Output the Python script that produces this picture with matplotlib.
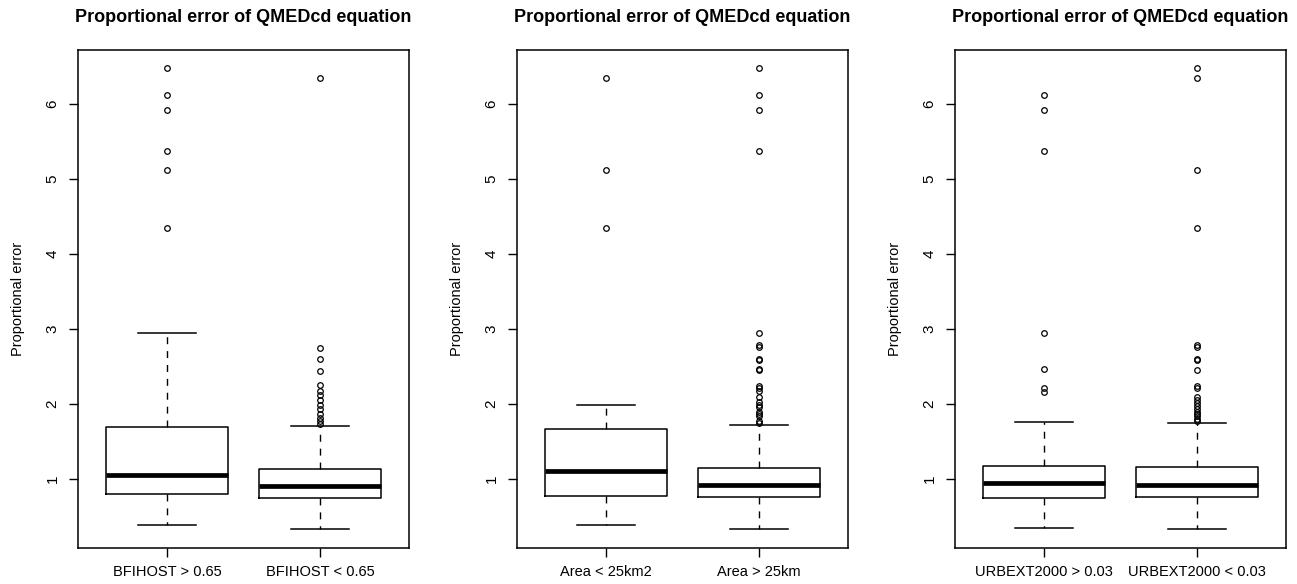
import numpy as np
import matplotlib
matplotlib.use("Agg")
import matplotlib.pyplot as plt

plt.rcParams['font.family'] = ['Liberation Sans', 'DejaVu Sans']

title = "Proportional error of QMEDcd equation"
ylabel = "Proportional error"

# panel 1 - BFIHOST split
labels1 = ["BFIHOST > 0.65", "BFIHOST < 0.65"]
whislo1 = [0.39, 0.333]
q1_1 = [0.795, 0.746]
med1 = [1.06, 0.906]
q3_1 = [1.69, 1.134]
whishi1 = [2.945, 1.71]
fliers1 = [
    [6.48, 6.12, 5.92, 5.37, 5.12, 4.35],
    [6.34, 2.75, 2.60, 2.44, 2.25, 2.18, 2.12, 2.05, 1.99, 1.93, 1.87, 1.82, 1.77, 1.73],
]

# panel 2 - catchment area split
labels2 = ["Area < 25km2", "Area > 25km"]
whislo2 = [0.39, 0.333]
q1_2 = [0.771, 0.756]
med2 = [1.11, 0.915]
q3_2 = [1.667, 1.144]
whishi2 = [1.985, 1.716]
fliers2 = [
    [6.34, 5.12, 4.35],
    [6.48, 6.12, 5.92, 5.37, 2.95, 2.78, 2.76, 2.60, 2.59, 2.47, 2.45, 2.24, 2.22,
     2.18, 2.09, 2.03, 1.99, 1.96, 1.90, 1.87, 1.84, 1.78, 1.75],
]

# panel 3 - URBEXT2000 split
labels3 = ["URBEXT2000 > 0.03", "URBEXT2000 < 0.03"]
whislo3 = [0.348, 0.333]
q1_3 = [0.746, 0.76]
med3 = [0.945, 0.92]
q3_3 = [1.179, 1.16]
whishi3 = [1.761, 1.746]
fliers3 = [
    [6.12, 5.92, 5.37, 2.94, 2.47, 2.22, 2.16],
    [6.48, 6.34, 5.12, 4.35, 2.78, 2.76, 2.60, 2.59, 2.45, 2.24, 2.22, 2.09, 2.05,
     2.01, 1.98, 1.94, 1.90, 1.87, 1.84, 1.80, 1.77],
]

panels = [
    (labels1, whislo1, q1_1, med1, q3_1, whishi1, fliers1),
    (labels2, whislo2, q1_2, med2, q3_2, whishi2, fliers2),
    (labels3, whislo3, q1_3, med3, q3_3, whishi3, fliers3),
]

W, H = 1297, 584
fig = plt.figure(figsize=(W / 100, H / 100), dpi=100)
lefts = [78, 517, 955]  # px
aw = 331
top, bot = 49.5, 547.5

for left, (labs, lo, q1, med, q3, hi, fl) in zip(lefts, panels):
    ax = fig.add_axes([left / W, (H - bot) / H, aw / W, (bot - top) / H])
    stats = []
    for i in range(len(labs)):
        stats.append(dict(label=labs[i], whislo=lo[i], q1=q1[i], med=med[i],
                          q3=q3[i], whishi=hi[i], fliers=fl[i]))
    ax.bxp(stats, positions=[1, 2], widths=0.8, capwidths=0.38,
           boxprops=dict(color='black', linewidth=1.1),
           medianprops=dict(color='black', linewidth=3.4, solid_capstyle='butt'),
           whiskerprops=dict(color='black', linewidth=1.0, linestyle=(0, (5, 5))),
           capprops=dict(color='black', linewidth=1.1),
           flierprops=dict(marker='o', markersize=4, markerfacecolor='none',
                           markeredgecolor='black', markeredgewidth=0.9))

    allv = [v for s in stats for v in [s['whislo'], s['whishi']] + list(s['fliers'])]
    vmin, vmax = min(allv), max(allv)
    r = vmax - vmin
    ax.set_ylim(vmin - 0.04 * r, vmax + 0.04 * r)
    ax.set_xlim(0.42, 2.58)

    ax.set_yticks([1, 2, 3, 4, 5, 6])
    ax.set_yticklabels(['1', '2', '3', '4', '5', '6'], rotation=90, va='center')
    ax.tick_params(axis='both', direction='out', length=6.8, width=1.0,
                   colors='black')
    ax.tick_params(axis='y', pad=6.5, labelsize=11)
    ax.tick_params(axis='x', pad=6, labelsize=10.5)
    for sp in ax.spines.values():
        sp.set_linewidth(1.1)
        sp.set_color('black')

    ax.set_title(title, fontsize=13, fontweight='bold', pad=20)
    ax.set_ylabel(ylabel, fontsize=10.5, va='center')
    ax.yaxis.set_label_coords(-60 / aw, 0.5)

fig.savefig("out.png", dpi=100, facecolor='white')
